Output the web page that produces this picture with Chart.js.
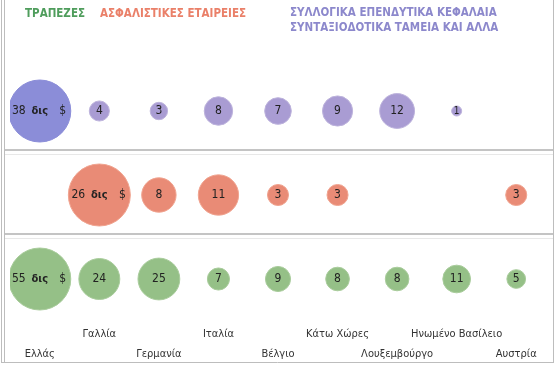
<!DOCTYPE html>
<html>
<head>
<meta charset="utf-8">
<script src="https://cdn.jsdelivr.net/npm/chart.js@4"></script>
<style>
html,body{margin:0;padding:0;background:#fff;}
#wrap{position:relative;width:559px;height:367px;}
canvas{display:block;}
</style>
</head>
<body>
<div id="wrap"><canvas id="c" width="559" height="367"></canvas></div>
<script>
const categories = ['Ελλάς','Γαλλία','Γερμανία','Ιταλία','Βέλγιο','Κάτω Χώρες','Λουξεμβούργο','Ηνωμένο Βασίλειο','Αυστρία'];
const banks     = [55, 24, 25, 7, 9, 8, 8, 11, 5];
const insurance = [null, 26, 8, 11, 3, 3, null, null, 3];
const funds     = [38, 4, 3, 8, 7, 9, 12, 1, null];
const seriesNames = ['ΤΡΑΠΕΖΕΣ', 'ΑΣΦΑΛΙΣΤΙΚΕΣ ΕΤΑΙΡΕΙΕΣ', ['ΣΥΛΛΟΓΙΚΑ ΕΠΕΝΔΥΤΙΚΑ ΚΕΦΑΛΑΙΑ', 'ΣΥΝΤΑΞΙΟΔΟΤΙΚΑ ΤΑΜΕΙΑ ΚΑΙ ΑΛΛΑ']];
const unitText = ['δις', '$'];

const FONT = '"Liberation Sans Narrow", "DejaVu Sans Condensed", "Open Sans", sans-serif';
const MAXR = 31;

function toPoints(values, row) {
  const pts = [];
  values.forEach((v, i) => { if (v !== null) pts.push({x: i, y: row, v: v}); });
  return pts;
}
function radiusFor(values) {
  const mx = Math.max(...values.filter(v => v !== null));
  return ctx => {
    const p = ctx.raw; if (!p) return 0;
    return MAXR * Math.sqrt(p.v / mx);
  };
}

const green = '#95c087', orange = '#e98b76', purpleBig = '#8b8dd8', purple = '#a99cd3';

const datasets = [
  {label: seriesNames[0], data: toPoints(banks, 0), backgroundColor: green, borderColor: '#a9cc9c', borderWidth: 1, radius: radiusFor(banks), hoverRadius: 0},
  {label: seriesNames[1], data: toPoints(insurance, 1), backgroundColor: orange, borderColor: '#f0a490', borderWidth: 1, radius: radiusFor(insurance), hoverRadius: 0},
  {label: 'funds', data: toPoints(funds, 2), backgroundColor: c => (c.raw && c.raw.x === 0 ? purpleBig : purple), borderColor: c => (c.raw && c.raw.x === 0 ? purpleBig : '#bdb3dc'), borderWidth: 1, radius: radiusFor(funds), hoverRadius: 0}
];

const decor = {
  id: 'decor',
  beforeDraw(chart) {
    const c = chart.ctx, y = chart.scales.y;
    c.save();
    // frame
    c.strokeStyle = '#bdbdbd'; c.lineWidth = 1;
    c.beginPath();
    c.moveTo(1.5, 0); c.lineTo(1.5, 363);
    c.moveTo(4.5, 0); c.lineTo(4.5, 362);
    c.moveTo(553.5, 0); c.lineTo(553.5, 363);
    c.moveTo(1, 362.5); c.lineTo(554, 362.5);
    c.stroke();
    // row separators
    [0.5, 1.5].forEach(v => {
      const py = Math.round(y.getPixelForValue(v)) - 3;
      c.fillStyle = '#c4c4c4'; c.fillRect(5, py - 1, 548, 2);
      c.fillStyle = '#e8e8e8'; c.fillRect(5, py + 4, 548, 1);
    });
    // legend
    c.textBaseline = 'middle'; c.textAlign = 'left';
    c.font = 'bold 11.5px ' + FONT;
    c.fillStyle = '#4f9d5c'; c.fillText(seriesNames[0], 25, 14);
    c.fillStyle = '#ea8069'; c.fillText(seriesNames[1], 100, 14);
    c.fillStyle = '#8c88cc';
    c.fillText(seriesNames[2][0], 290, 13);
    c.fillText(seriesNames[2][1], 290, 28);
    c.restore();
  },
  afterDatasetsDraw(chart) {
    const c = chart.ctx;
    c.save();
    c.fillStyle = '#222'; c.textBaseline = 'middle'; c.textAlign = 'center';
    chart.data.datasets.forEach((ds, di) => {
      const meta = chart.getDatasetMeta(di);
      meta.data.forEach((el, i) => {
        const p = ds.data[i];
        if (i === 0) {
          c.font = '12px ' + FONT;
          c.fillText(String(p.v), el.x - 21, el.y);
          c.font = 'bold 11px ' + FONT;
          c.fillText(unitText[0], el.x, el.y);
          c.font = '12px ' + FONT;
          c.fillText(unitText[1], el.x + 23, el.y);
        } else {
          c.font = (p.v === 1 ? '10px ' : '12px ') + FONT;
          c.fillText(String(p.v), el.x, el.y);
        }
      });
    });
    c.restore();
  }
};

new Chart(document.getElementById('c'), {
  type: 'bubble',
  data: {datasets},
  options: {
    responsive: false,
    animation: false,
    events: [],
    layout: {autoPadding: false, padding: {top: 69, left: 10, right: 13, bottom: 0}},
    plugins: {legend: {display: false}, tooltip: {enabled: false}},
    scales: {
      x: {
        type: 'linear', min: -0.5, max: 8.5,
        afterBuildTicks: axis => { axis.ticks = categories.map((_, i) => ({value: i})); },
        afterFit: axis => { axis.height = 46; },
        grid: {display: false}, border: {display: false},
        ticks: {
          autoSkip: false, maxRotation: 0, padding: -4, color: '#333',
          font: {family: FONT, size: 11, lineHeight: 1.75},
          callback: (v) => { const i = Math.round(v); return (i % 2 === 1) ? [categories[i], ''] : ['', categories[i]]; }
        }
      },
      y: {
        type: 'linear', min: -0.5, max: 2.5, display: false
      }
    }
  },
  plugins: [decor]
});
</script>
</body>
</html>
